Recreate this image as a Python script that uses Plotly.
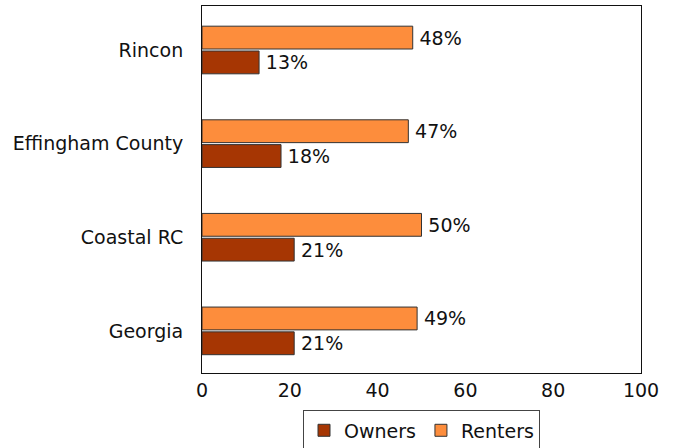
import plotly.graph_objects as go

categories = ["Georgia", "Coastal RC", "Effingham County", "Rincon"]
owners = [21, 21, 18, 13]
renters = [49, 50, 47, 48]
x_ticks = [0, 20, 40, 60, 80, 100]

FONT = "DejaVu Sans"
FS = 19
owner_color = "#A63603"
renter_color = "#FD8D3C"

fig = go.Figure()
fig.add_trace(go.Bar(
    y=categories, x=owners, orientation="h", name="Owners",
    marker=dict(color=owner_color, line=dict(color="#333333", width=1)),
    text=[f"\u2009{v}%" for v in owners], textposition="outside",
    textfont=dict(family=FONT, size=FS, color="#111111"), cliponaxis=False,
))
fig.add_trace(go.Bar(
    y=categories, x=renters, orientation="h", name="Renters",
    marker=dict(color=renter_color, line=dict(color="#333333", width=1)),
    text=[f"\u2009{v}%" for v in renters], textposition="outside",
    textfont=dict(family=FONT, size=FS, color="#111111"), cliponaxis=False,
))

fig.update_layout(
    width=678, height=448,
    margin=dict(l=202, r=37, t=6, b=75, autoexpand=False),
    paper_bgcolor="white", plot_bgcolor="white",
    barmode="group", bargap=0.47, bargroupgap=0.08,
    font=dict(family=FONT, size=FS, color="#111111"),
    showlegend=True,
    legend=dict(orientation="h", x=0.5, xanchor="center", y=-0.102, yanchor="top",
                bordercolor="#444444", borderwidth=1, font=dict(family=FONT, size=FS),
                traceorder="normal", itemwidth=30, tracegroupgap=0),
    xaxis=dict(range=[0, 100], tickvals=x_ticks, ticks="", showgrid=False, zeroline=False,
               showline=True, linecolor="#111111", linewidth=1, mirror=True,
               tickfont=dict(family=FONT, size=FS)),
    yaxis=dict(type="category", categoryorder="array", categoryarray=categories,
               range=[-0.45, 3.47], ticks="", showgrid=False, zeroline=False,
               showline=True, linecolor="#111111", linewidth=1, mirror=True,
               ticklabelstandoff=14, tickfont=dict(family=FONT, size=FS)),
)

fig.write_html("out.html", config={"displayModeBar": False},
               post_script="document.body.style.margin='0';document.body.style.padding='0';")
